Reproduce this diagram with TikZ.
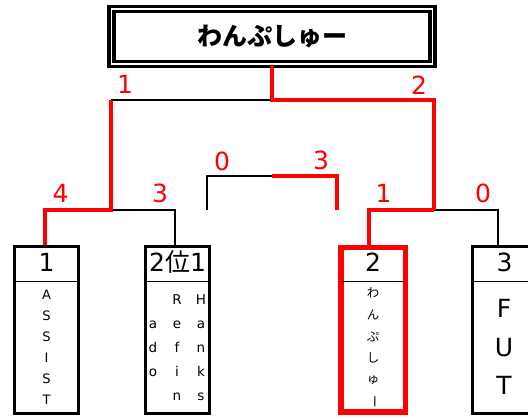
\documentclass[tikz,border=0pt]{standalone}
\usepackage{fontspec}
\setmainfont{DejaVu Sans}
\newfontfamily\jp{Noto Sans CJK JP}
\begin{document}
\begin{tikzpicture}[x=1pt, y=-1pt,
    lose/.style={line width=2.3pt, black},
    win/.style={line width=4.5pt, red},
    team/.style={draw, line width=3pt, minimum width=64pt, minimum height=167pt, inner sep=0pt},
    teamwin/.style={team, red, line width=5.5pt, minimum width=64.5pt, minimum height=164.5pt},
    score/.style={red, font=\fontsize{25}{25}\selectfont, anchor=base, inner sep=0pt},
    seed/.style={font=\fontsize{25}{25}\selectfont, anchor=base, inner sep=0pt},
    letter/.style={anchor=base, inner sep=0pt}]
        \useasboundingbox (0,0) rectangle (528,419);
        \clip (0,0) rectangle (528,419);

        % title box
        \node[draw, double, line width=3.3pt, double distance=1.7pt, minimum width=321pt,
              minimum height=55pt, inner sep=0pt,
              font=\jp\bfseries\fontsize{25}{25}\selectfont] (winner) at (272,36.6) {わんぷしゅー};

        % team boxes
        \node[team] (t1) at (46.5,330) {};
        \node[team] (t2) at (177.5,330) {};
        \node[team] (t4) at (504.5,330) {};
        \node[teamwin] (t3) at (373,330) {};

        \coordinate (hl) at (0,281.5);
        \draw[line width=0.8pt] (t1.west |- hl) -- (t1.east |- hl);
        \draw[line width=0.8pt] (t2.west |- hl) -- (t2.east |- hl);
        \draw[line width=0.8pt] ([xshift=2.75pt]t3.west |- hl) -- ([xshift=-2.75pt]t3.east |- hl);
        \draw[line width=0.8pt] (t4.west |- hl) -- (t4.east |- hl);

        \node[seed] (h1) at (46.5,272) {1};
        \node[seed] (h2) at (177.5,272) {2{\jp 位}1};
        \node[seed] (h3) at (373,272) {2};
        \node[seed] (h4) at (504.5,272) {3};

        % names
        \foreach \ch [count=\i] in {A,S,S,I,S,T}
          \node[letter, font=\fontsize{13}{13}\selectfont] (n1-\i) at (46.5, 299.5+21*\i-21) {\ch};
        \foreach \ch [count=\i] in {a,d,o}
          \node[letter, font=\fontsize{13.5}{13.5}\selectfont] (na-\i) at (153, 305+24*\i) {\ch};
        \foreach \ch [count=\i] in {R,e,f,i,n}
          \node[letter, font=\fontsize{13.5}{13.5}\selectfont] (nb-\i) at (177, 305+24*\i-24) {\ch};
        \foreach \ch [count=\i] in {H,a,n,k,s}
          \node[letter, font=\fontsize{13.5}{13.5}\selectfont] (nc-\i) at (201, 305+24*\i-24) {\ch};
        \foreach \ch [count=\i] in {わ,ん,ぷ,し,ゅ}
          \node[inner sep=0pt, font=\jp\fontsize{12.5}{12.5}\selectfont] (n3-\i) at (373, 293+21.8*\i-21.8) {\ch};
        \node[inner sep=0pt, rotate=-90, font=\jp\fontsize{12.5}{12.5}\selectfont] (n3-6) at (373,402) {ー};
        \foreach \ch [count=\i] in {F,U,T}
          \node[letter, font=\fontsize{25}{25}\selectfont] (n4-\i) at (504, 318+38.5*\i-38.5) {\ch};

        % bracket joints
        \coordinate (f) at (272,100);
        \coordinate (sl) at (111,100);
        \coordinate (sr) at (434,100);
        \coordinate (ql) at (111,210);
        \coordinate (qr) at (434,210);
        \coordinate (ml) at (207,210);
        \coordinate (mt) at (272,176);
        \coordinate (mr) at (337,210);
        \coordinate (d1) at (45,0);
        \coordinate (d2) at (175,0);
        \coordinate (d3) at (369,0);
        \coordinate (d4) at (498,0);

        \draw[lose] (sl) -- (f);
        \draw[lose] (ql) -| (d2 |- t2.north);
        \draw[lose] (qr) -| (d4 |- t4.north);
        \draw[lose] (ml) |- (mt);

        \draw[win] (winner.south) -- (f) -| (qr);
        \draw[win] (sl) -- (ql) -| (d1 |- t1.north);
        \draw[win] (qr) -| (d3 |- t3.north);
        \draw[win] (mt) -| (mr);

        % scores
        \node[score] (s1) at (125,94) {1};
        \node[score] (s2) at (419,95) {2};
        \node[score] (s3) at (222,171) {0};
        \node[score] (s4) at (321,170) {3};
        \node[score] (s5) at (60.5,203) {4};
        \node[score] (s6) at (160,203) {3};
        \node[score] (s7) at (383.5,203) {1};
        \node[score] (s8) at (483,203) {0};
      \end{tikzpicture}
\end{document}
